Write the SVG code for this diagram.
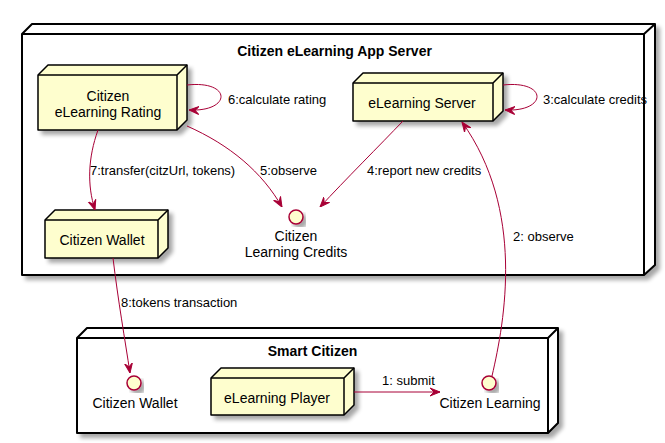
<svg xmlns="http://www.w3.org/2000/svg" width="665" height="443" viewBox="0 0 665 443">
<style>
.box{fill:#FEFECE;stroke:#000;stroke-width:1.5;stroke-linejoin:round}
.edge{fill:none;stroke:#000;stroke-width:1.5}
.frame{fill:#fff;stroke:#000;stroke-width:2;stroke-linejoin:round}
.fline{fill:none;stroke:#000;stroke-width:2}
.conn{fill:none;stroke:#A80036;stroke-width:1}
.iface{fill:#FEFECE;stroke:#A80036;stroke-width:1.5}
.t{font-family:"Liberation Sans",Arial,sans-serif;font-size:14px;fill:#000;text-anchor:middle}
.tb{font-family:"Liberation Sans",Arial,sans-serif;font-size:14px;font-weight:bold;fill:#000;text-anchor:middle}
.l{font-family:"Liberation Sans",Arial,sans-serif;font-size:13px;fill:#000}
</style>
<defs>
<filter id="sh" x="-10%" y="-10%" width="130%" height="130%">
<feGaussianBlur in="SourceAlpha" stdDeviation="2"/>
<feOffset dx="4" dy="4" result="o"/>
<feComponentTransfer><feFuncA type="linear" slope="0.35"/></feComponentTransfer>
<feMerge><feMergeNode/><feMergeNode in="SourceGraphic"/></feMerge>
</filter>
<marker id="ah" viewBox="0 0 10 10" refX="10" refY="5" markerWidth="10" markerHeight="10" markerUnits="userSpaceOnUse" orient="auto">
<path d="M0,1 L10,5 L0,9 L4,5 Z" fill="#A80036" stroke="#A80036" stroke-width="1"/>
</marker>
</defs>

<g id="app-server">
<path class="frame" filter="url(#sh)" d="M22,34 L32,24 L655,24 L655,265 L644,275 L22,275 Z"/>
<path class="fline" d="M22,34 L644,34 L655,24 M644,34 L644,275"/>
<text class="tb" x="334.5" y="56">Citizen eLearning App Server</text>
</g>

<g id="smart-citizen">
<path class="frame" filter="url(#sh)" d="M77,338 L87,328 L558,328 L558,423 L548,433 L77,433 Z"/>
<path class="fline" d="M77,338 L548,338 L558,328 M548,338 L548,433"/>
<text class="tb" x="312.5" y="356">Smart Citizen</text>
</g>

<g id="elearning-rating">
<path class="box" filter="url(#sh)" d="M38,75 L48,65 L187,65 L187,120 L177,130 L38,130 Z"/>
<path class="edge" d="M38,75 L177,75 L187,65 M177,75 L177,130"/>
<text class="t" x="108" y="101">Citizen</text>
<text class="t" x="108" y="117">eLearning Rating</text>
</g>

<g id="citizen-wallet-node">
<path class="box" filter="url(#sh)" d="M45,220 L55,210 L168,210 L168,248 L158,258 L45,258 Z"/>
<path class="edge" d="M45,220 L158,220 L168,210 M158,220 L158,258"/>
<text class="t" x="102" y="245">Citizen Wallet</text>
</g>

<g id="elearning-server">
<path class="box" filter="url(#sh)" d="M353,83 L363,73 L503,73 L503,111 L493,121 L353,121 Z"/>
<path class="edge" d="M353,83 L493,83 L503,73 M493,83 L493,121"/>
<text class="t" x="422" y="108">eLearning Server</text>
</g>

<g id="elearning-player">
<path class="box" filter="url(#sh)" d="M211,378 L221,368 L354,368 L354,405 L344,415 L211,415 Z"/>
<path class="edge" d="M211,378 L344,378 L354,368 M344,378 L344,415"/>
<text class="t" x="277" y="403">eLearning Player</text>
</g>

<g id="learning-credits">
<circle class="iface" filter="url(#sh)" cx="296" cy="217" r="7"/>
<text class="t" x="296" y="241">Citizen</text>
<text class="t" x="296" y="257">Learning Credits</text>
</g>

<g id="citizen-wallet-iface">
<circle class="iface" filter="url(#sh)" cx="134" cy="383" r="7"/>
<text class="t" x="135" y="408">Citizen Wallet</text>
</g>

<g id="citizen-learning-iface">
<circle class="iface" filter="url(#sh)" cx="489" cy="383" r="7"/>
<text class="t" x="490" y="408">Citizen Learning</text>
</g>

<g id="connectors">
<path class="conn" marker-end="url(#ah)" d="M354,392 L440,392"/>
<text class="l" x="382" y="385">1: submit</text>
<path class="conn" marker-end="url(#ah)" d="M492,376 C505,320 525,210 462,122"/>
<text class="l" x="513" y="241">2: observe</text>
<path class="conn" marker-end="url(#ah)" d="M503,85 C548,80 548,112 505,110"/>
<text class="l" x="543" y="104">3:calculate credits</text>
<path class="conn" marker-end="url(#ah)" d="M403,121 C380,145 345,180 320,207"/>
<text class="l" x="367" y="175">4:report new credits</text>
<path class="conn" marker-end="url(#ah)" d="M187,126 C230,145 262,172 282,207"/>
<text class="l" x="260" y="175">5:observe</text>
<path class="conn" marker-end="url(#ah)" d="M187,85 C232,80 232,112 189,110"/>
<text class="l" x="228" y="104">6:calculate rating</text>
<path class="conn" marker-end="url(#ah)" d="M98,130 C88,158 87,185 95,210"/>
<text class="l" x="90" y="175">7:transfer(citzUrl, tokens)</text>
<path class="conn" marker-end="url(#ah)" d="M113,258 C118,300 125,340 130,373"/>
<text class="l" x="121" y="307">8:tokens transaction</text>
</g>
</svg>
